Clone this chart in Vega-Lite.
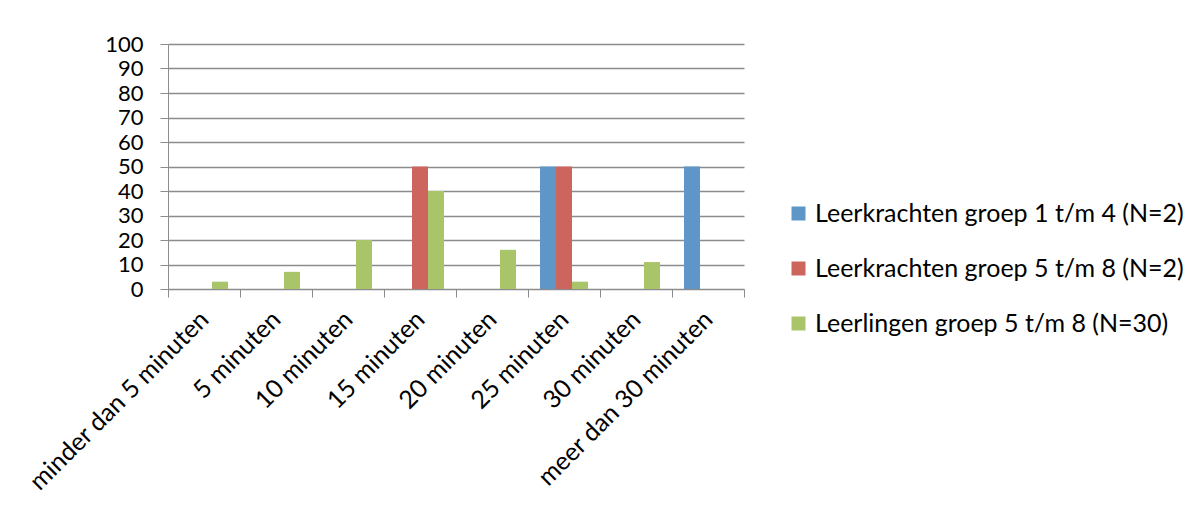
{
  "$schema": "https://vega.github.io/schema/vega-lite/v6.json",
  "width": 576,
  "height": 245,
  "autosize": {"type": "none"},
  "padding": {"left": 168, "top": 44, "right": 453, "bottom": 221},
  "background": "white",
  "config": {
    "font": "Lato",
    "view": {"stroke": null},
    "axis": {"labelFont": "Lato", "labelColor": "#000000", "labelFontSize": 23}
  },
  "data": {
    "values": [
      {"duur": "minder dan 5 minuten", "groep": "Leerlingen groep 5 t/m 8 (N=30)", "procent": 3},
      {"duur": "5 minuten", "groep": "Leerlingen groep 5 t/m 8 (N=30)", "procent": 7},
      {"duur": "10 minuten", "groep": "Leerlingen groep 5 t/m 8 (N=30)", "procent": 20},
      {"duur": "15 minuten", "groep": "Leerkrachten groep 5 t/m 8 (N=2)", "procent": 50},
      {"duur": "15 minuten", "groep": "Leerlingen groep 5 t/m 8 (N=30)", "procent": 40},
      {"duur": "20 minuten", "groep": "Leerlingen groep 5 t/m 8 (N=30)", "procent": 16},
      {"duur": "25 minuten", "groep": "Leerkrachten groep 1 t/m 4 (N=2)", "procent": 50},
      {"duur": "25 minuten", "groep": "Leerkrachten groep 5 t/m 8 (N=2)", "procent": 50},
      {"duur": "25 minuten", "groep": "Leerlingen groep 5 t/m 8 (N=30)", "procent": 3},
      {"duur": "30 minuten", "groep": "Leerlingen groep 5 t/m 8 (N=30)", "procent": 11},
      {"duur": "meer dan 30 minuten", "groep": "Leerkrachten groep 1 t/m 4 (N=2)", "procent": 50}
    ]
  },
  "mark": {"type": "bar"},
  "encoding": {
    "x": {
      "field": "duur",
      "type": "nominal",
      "sort": ["minder dan 5 minuten", "5 minuten", "10 minuten", "15 minuten", "20 minuten", "25 minuten", "30 minuten", "meer dan 30 minuten"],
      "scale": {"paddingInner": 0, "paddingOuter": 0},
      "axis": {
        "title": null,
        "tickBand": "extent",
        "domainColor": "#8c8c8c",
        "tickColor": "#8c8c8c",
        "tickSize": 8,
        "labelAngle": -45,
        "labelAlign": "right",
        "labelBaseline": "middle",
        "labelFontSize": 25,
        "labelPadding": 18,
        "labelLimit": 0,
        "labelOverlap": false
      }
    },
    "xOffset": {
      "field": "groep",
      "type": "nominal",
      "sort": ["Leerkrachten groep 1 t/m 4 (N=2)", "Leerkrachten groep 5 t/m 8 (N=2)", "Leerlingen groep 5 t/m 8 (N=30)"],
      "scale": {"paddingInner": 0, "paddingOuter": 0.75}
    },
    "y": {
      "field": "procent",
      "type": "quantitative",
      "scale": {"domain": [0, 100], "nice": false},
      "axis": {
        "title": null,
        "values": [0, 10, 20, 30, 40, 50, 60, 70, 80, 90, 100],
        "gridColor": "#8c8c8c",
        "gridWidth": 1.5,
        "domainColor": "#8c8c8c",
        "tickColor": "#8c8c8c",
        "tickSize": 8,
        "labelFontSize": 22,
        "labelPadding": 17,
        "labelOverlap": false
      }
    },
    "color": {
      "field": "groep",
      "type": "nominal",
      "sort": ["Leerkrachten groep 1 t/m 4 (N=2)", "Leerkrachten groep 5 t/m 8 (N=2)", "Leerlingen groep 5 t/m 8 (N=30)"],
      "scale": {"range": ["#5f96c8", "#cd655f", "#aac46a"]},
      "legend": {
        "title": null,
        "orient": "none",
        "legendX": 618,
        "legendY": 157,
        "padding": 0,
        "symbolType": "square",
        "symbolSize": 196,
        "symbolStrokeWidth": 0,
        "labelFont": "Lato",
        "labelFontSize": 25,
        "labelColor": "#000000",
        "labelLimit": 0,
        "labelOffset": 4,
        "rowPadding": 29
      }
    }
  }
}
